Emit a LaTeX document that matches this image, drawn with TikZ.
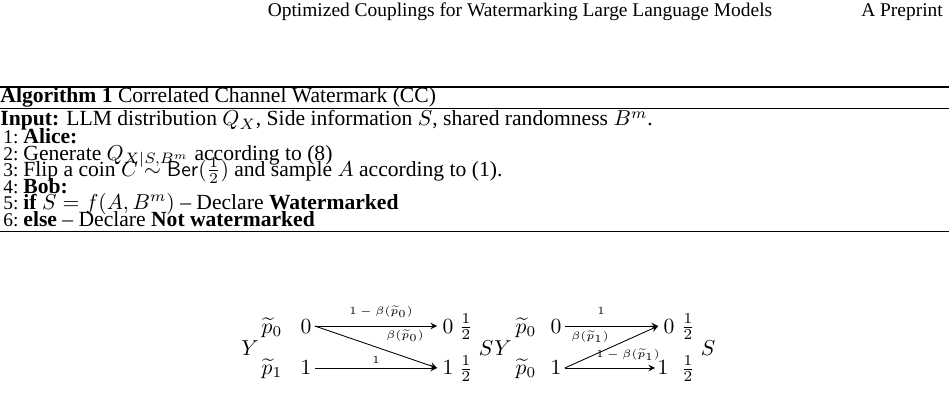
\documentclass[tikz,border=0pt]{standalone}
\usepackage{amsmath,amssymb}
\usepackage{fontspec}
\setmainfont{Liberation Serif}
\usetikzlibrary{calc}
\begin{document}
\begin{tikzpicture}[x=0.463pt,y=-0.463pt,
 t/.style={anchor=base west,inner sep=0pt},
 m/.style={inner sep=0pt,font=\normalsize},
 lb/.style={inner sep=0pt,font=\fontsize{5.5}{6}\selectfont},
 ar/.style={->,>=stealth,line width=0.4pt}]
\useasboundingbox (0,0) rectangle (949,403);
\node[anchor=base,inner sep=0pt] (hd) at (520,17) {\small Optimized Couplings for Watermarking Large Language Models};
\node[anchor=base,inner sep=0pt] (hp) at (902,17) {\small A \textsc{Preprint}};
\draw[line width=0.6pt] (0,87) -- (949,87);
\node[t] (cap) at (0,102) {\textbf{Algorithm 1} Correlated Channel Watermark (CC)};
\draw[line width=0.4pt] (0,108) -- (949,108);
\node[t] (in) at (0,126) {\textbf{Input:} LLM distribution $Q_X$, Side information $S$, shared randomness $B^m$.};
\node[t] (l1) at (3,143) {\small 1:\ \normalsize\textbf{Alice:}};
\node[t] (l2) at (3,160) {\small 2:\ \normalsize Generate $Q_{X|S,B^m}$ according to (8)};
\node[t] (l3) at (3,176) {\small 3:\ \normalsize Flip a coin $C\sim\mathsf{Ber}(\frac12)$ and sample $A$ according to (1).};
\node[t] (l4) at (3,193) {\small 4:\ \normalsize\textbf{Bob:}};
\node[t] (l5) at (3,209) {\small 5:\ \normalsize\textbf{if} $S=f(A,B^m)$ -- Declare \textbf{Watermarked}};
\node[t] (l6) at (3,226) {\small 6:\ \normalsize\textbf{else} -- Declare \textbf{Not watermarked}};
\draw[line width=0.4pt] (0,231) -- (949,231);
% left channel
\node[m] (Y1) at (250,348) {$Y$};
\node[m] (pa) at (272,328) {$\widetilde{p}_0$};
\node[m] (pb) at (272,369) {$\widetilde{p}_1$};
\node[m] (a0) at (306,327) {$0$};
\node[m] (a1) at (306,368) {$1$};
\node[m] (b0) at (448,327) {$0$};
\node[m] (b1) at (448,368) {$1$};
\node[m] (h0) at (466,327) {$\tfrac12$};
\node[m] (h1) at (466,369) {$\tfrac12$};
\node[m] (S1) at (486,348) {$S$};
\coordinate (s0) at ($(a0.east)+(3,-1)$);
\draw[ar] (s0) -- ($(b0.west)+(-5,-1)$);
\draw[ar] (s0) -- ($(b1.west)+(-5,0)$);
\draw[ar] ($(a1.east)+(3,0)$) -- ($(b1.west)+(-5,0)$);
\node[lb] (la) at (381,312) {$1-\beta(\widetilde{p}_0)$};
\node[lb] (lb) at (405,336) {$\beta(\widetilde{p}_0)$};
\node[lb] (lc) at (376,360) {$1$};
% right channel
\node[m] (Y2) at (503,348) {$Y$};
\node[m] (qa) at (526,328) {$\widetilde{p}_0$};
\node[m] (qb) at (526,369) {$\widetilde{p}_0$};
\node[m] (c0) at (556,327) {$0$};
\node[m] (c1) at (556,368) {$1$};
\node[m] (d0) at (669,327) {$0$};
\node[m] (d1) at (663,368) {$1$};
\node[m] (g0) at (688,327) {$\tfrac12$};
\node[m] (g1) at (688,369) {$\tfrac12$};
\node[m] (S2) at (708,348) {$S$};
\coordinate (f0) at ($(d0.west)+(-5,-1)$);
\coordinate (t1) at ($(c1.east)+(3,0)$);
\draw[ar] ($(c0.east)+(3,-1)$) -- (f0);
\draw[ar] (t1) -- (f0);
\draw[ar] (t1) -- ($(d1.west)+(-2,0)$);
\node[lb] (ld) at (601,311) {$1$};
\node[lb] (le) at (590,337) {$\beta(\widetilde{p}_1)$};
\node[lb] (lf) at (628,355) {$1-\beta(\widetilde{p}_1)$};
\end{tikzpicture}
\end{document}
